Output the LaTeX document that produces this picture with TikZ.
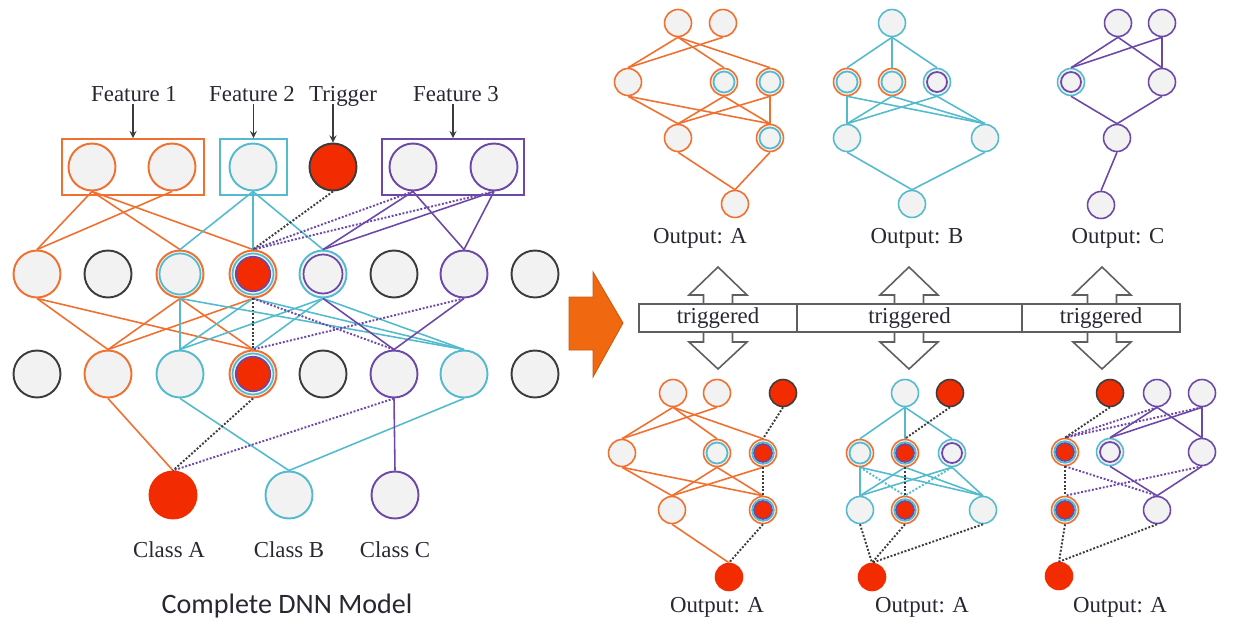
\documentclass[tikz,border=0pt]{standalone}
\usepackage{fontspec}
\setmainfont{Liberation Serif}
\newfontfamily\capfont{Carlito}
\definecolor{org}{RGB}{240,112,48}
\definecolor{cyn}{RGB}{84,186,206}
\definecolor{pur}{RGB}{108,72,168}
\definecolor{trg}{RGB}{242,44,0}
\definecolor{nfill}{RGB}{242,242,242}
\definecolor{dk}{RGB}{60,60,60}
\definecolor{gry}{RGB}{95,95,95}
\definecolor{arw}{RGB}{240,104,16}
\definecolor{txt}{RGB}{40,40,50}
\begin{document}
\begin{tikzpicture}[x=0.02cm,y=-0.02cm,>=stealth,
	nd/.style={circle,inner sep=0pt,minimum size=0.94cm,line width=1.1pt,draw=#1,fill=nfill},
	sm/.style={circle,inner sep=0pt,minimum size=0.54cm,line width=0.9pt,draw=#1,fill=nfill},
	rc/.style={path picture={\draw[cyn,line width=1pt] (path picture bounding box.center) circle[radius=#1];}},
	rp/.style={path picture={\draw[pur,line width=1pt] (path picture bounding box.center) circle[radius=#1];}},
	hot/.style={path picture={\fill[trg] (path picture bounding box.center) circle[radius=0.84*#1];
		\draw[pur,line width=1pt] (path picture bounding box.center) circle[radius=0.84*#1];
		\draw[cyn,line width=1pt] (path picture bounding box.center) circle[radius=#1];}},
	bx/.style={draw=#1,line width=1pt,minimum height=1.12cm,inner sep=0pt},
	seg/.style={draw=gry,fill=white,line width=0.9pt,minimum height=0.56cm,inner sep=0pt,text=txt,font=\fontsize{13}{15}\selectfont},
	lab/.style={inner sep=1pt,text depth=0pt,anchor=base,text=txt,font=\fontsize{13}{15}\selectfont},
	eo/.style={org,line width=0.9pt},
	ec/.style={cyn,line width=0.9pt},
	ep/.style={pur,line width=0.9pt},
	dd/.style={dk,densely dotted,line width=1.1pt},
	dc/.style={cyn,densely dotted,line width=1.1pt},
	dp/.style={pur,densely dotted,line width=1.1pt}]
\useasboundingbox (0,0) rectangle (1250,635);

\node[bx=org,minimum width=2.84cm] (bx1) at (133,167) {};
\node[bx=cyn,minimum width=1.34cm] (bx2) at (253.5,167) {};
\node[bx=pur,minimum width=2.84cm] (bx3) at (453,167) {};
\node[nd=org] (f1a) at (92,167) {};
\node[nd=org] (f1b) at (172,167) {};
\node[nd=cyn] (f2) at (253,167) {};
\node[nd=dk,fill=trg] (tr) at (333,167) {};
\node[nd=pur] (f3a) at (413,167) {};
\node[nd=pur] (f3b) at (494,167) {};
\node[lab] (lf1) at (134,102) {Feature 1};
\node[lab] (lf2) at (252,102) {Feature 2};
\node[lab] (ltr) at (343,102) {Trigger};
\node[lab] (lf3) at (456,102) {Feature 3};
\draw[->,dk,line width=0.8pt] (lf1.south -| bx1.north) -- (bx1.north);
\draw[->,dk,line width=0.8pt] (lf2.south -| bx2.north) -- (bx2.north);
\draw[->,dk,line width=0.8pt] (ltr.south -| tr.north) -- (tr.north);
\draw[->,dk,line width=0.8pt] (lf3.south -| bx3.north) -- (bx3.north);

\node[nd=org] (h1) at (37,274) {};
\node[nd=dk] (h2) at (108,274) {};
\node[nd=org,rc=0.41cm] (h3) at (180,274) {};
\node[nd=org,hot=0.41cm] (h4) at (253,274) {};
\node[nd=cyn,rp=0.39cm] (h5) at (323,274) {};
\node[nd=dk] (h6) at (394,274) {};
\node[nd=pur] (h7) at (464,274) {};
\node[nd=dk] (h8) at (535,274) {};
\node[nd=dk] (g1) at (37,374) {};
\node[nd=org] (g2) at (108,374) {};
\node[nd=cyn] (g3) at (180,374) {};
\node[nd=org,hot=0.41cm] (g4) at (253,374) {};
\node[nd=dk] (g5) at (323,374) {};
\node[nd=pur] (g6) at (394,374) {};
\node[nd=cyn] (g7) at (464,374) {};
\node[nd=dk] (g8) at (535,374) {};
\node[nd=trg,fill=trg] (oa) at (173,495) {};
\node[nd=cyn] (ob) at (289,495) {};
\node[nd=pur] (oc) at (395,495) {};
\node[lab] (la) at (169,557) {Class A};
\node[lab] (lb) at (289,557) {Class B};
\node[lab] (lc) at (395,557) {Class C};
\node[lab,font=\capfont\fontsize{16}{19}\selectfont] (cap) at (287,613) {Complete DNN Model};

\foreach \a/\b in {f1a/h1,f1a/h3,f1a/h4,f1b/h1,h1/g2,h1/g4,h3/g2,h3/g4,h4/g2,g2/oa}
	\draw[eo] (\a.south) -- (\b.north);
\foreach \a/\b in {f2/h3,f2/h4,f2/h5,h3/g3,h3/g7,h4/g3,h4/g7,h5/g3,h5/g4,h5/g7,g3/ob,g7/ob}
	\draw[ec] (\a.south) -- (\b.north);
\foreach \a/\b in {f3a/h5,f3a/h7,f3b/h5,f3b/h7,h5/g6,h7/g6,g6/oc}
	\draw[ep] (\a.south) -- (\b.north);
\foreach \a/\b in {f3a/h4,f3b/h4,h4/g6,h7/g4,g6/oa}
	\draw[dp] (\a.south) -- (\b.north);
\foreach \a/\b in {tr/h4,h4/g4,g4/oa}
	\draw[dd] (\a.south) -- (\b.north);

\fill[arw,draw=arw!85!black,line width=0.5pt] (569,297) -- (593,297) -- (593,272) -- (623,323)
	-- (593,377) -- (593,350) -- (569,350) -- cycle;
\foreach \x in {718,909,1102}
	\draw[gry,fill=white,line width=0.9pt] (\x,267) -- ++(29,28) -- ++(-14.5,0) -- ++(0,47) -- ++(14.5,0)
		-- (\x,369) -- ++(-29,-27) -- ++(14.5,0) -- ++(0,-47) -- ++(-14.5,0) -- cycle;
\node[seg,minimum width=3.16cm] (s1) at (718,318) {triggered};
\node[seg,minimum width=4.5cm] (s2) at (909.5,318) {triggered};
\node[seg,minimum width=3.16cm] (s3) at (1101,318) {triggered};

\node[sm=org] (uat1) at (678,23) {};
\node[sm=org] (uat2) at (723,23) {};
\node[sm=org] (uam1) at (628,82) {};
\node[sm=org,rc=0.21cm] (uam2) at (724,82) {};
\node[sm=org,rc=0.21cm] (uam3) at (770,82) {};
\node[sm=org] (ual1) at (678,138) {};
\node[sm=org,rc=0.21cm] (ual2) at (770,138) {};
\node[sm=org] (uao) at (735,204) {};
\node[lab] (lua) at (700,243) {Output: A};
\foreach \a/\b in {uat1/uam1,uat1/uam2,uat1/uam3,uat2/uam1,uam1/ual1,uam1/ual2,uam2/ual1,uam2/ual2,uam3/ual1,uam3/ual2,ual1/uao,ual2/uao}
	\draw[eo] (\a.south) -- (\b.north);

\node[sm=cyn] (ubt) at (892,23) {};
\node[sm=org,rc=0.21cm] (ubm1) at (847,82) {};
\node[sm=org,rc=0.21cm] (ubm2) at (892,82) {};
\node[sm=cyn,rp=0.20cm] (ubm3) at (937,82) {};
\node[sm=cyn] (ubl1) at (847,138) {};
\node[sm=cyn] (ubl2) at (985,138) {};
\node[sm=cyn] (ubo) at (912,204) {};
\node[lab] (lub) at (917,243) {Output: B};
\foreach \a/\b in {ubt/ubm1,ubt/ubm2,ubt/ubm3,ubm1/ubl1,ubm1/ubl2,ubm2/ubl1,ubm2/ubl2,ubm3/ubl1,ubm3/ubl2,ubl1/ubo,ubl2/ubo}
	\draw[ec] (\a.south) -- (\b.north);

\node[sm=pur] (uct1) at (1118,23) {};
\node[sm=pur] (uct2) at (1162,23) {};
\node[sm=cyn,rp=0.20cm] (ucm1) at (1071,82) {};
\node[sm=pur] (ucm2) at (1162,82) {};
\node[sm=pur] (ucl) at (1117,138) {};
\node[sm=pur] (uco) at (1101,205) {};
\node[lab] (luc) at (1118,243) {Output: C};
\foreach \a/\b in {uct1/ucm1,uct1/ucm2,uct2/ucm1,uct2/ucm2,ucm1/ucl,ucm2/ucl,ucl/uco}
	\draw[ep] (\a.south) -- (\b.north);

\node[sm=org] (dat1) at (673,393) {};
\node[sm=org] (dat2) at (717,393) {};
\node[sm=dk,fill=trg] (datr) at (783,393) {};
\node[sm=org] (dam1) at (622,453) {};
\node[sm=org,rc=0.21cm] (dam2) at (717,453) {};
\node[sm=org,hot=0.215cm] (dam3) at (763,453) {};
\node[sm=org] (dal1) at (672,510) {};
\node[sm=org,hot=0.215cm] (dal2) at (763,510) {};
\node[sm=trg,fill=trg] (dao) at (729,577) {};
\node[lab] (lda) at (717,612) {Output: A};
\foreach \a/\b in {dat1/dam1,dat1/dam2,dat1/dam3,dat2/dam1,dam1/dal1,dam1/dal2,dam2/dal1,dam2/dal2,dam3/dal1,dal1/dao}
	\draw[eo] (\a.south) -- (\b.north);
\foreach \a/\b in {datr/dam3,dam3/dal2,dal2/dao}
	\draw[dd] (\a.south) -- (\b.north);

\node[sm=cyn] (dbt) at (905,393) {};
\node[sm=dk,fill=trg] (dbtr) at (950,393) {};
\node[sm=org,rc=0.21cm] (dbm1) at (860,453) {};
\node[sm=org,hot=0.215cm] (dbm2) at (905,453) {};
\node[sm=cyn,rp=0.20cm] (dbm3) at (952,453) {};
\node[sm=cyn] (dbl1) at (860,510) {};
\node[sm=org,hot=0.215cm] (dbl2) at (905,510) {};
\node[sm=cyn] (dbl3) at (983,510) {};
\node[sm=trg,fill=trg] (dbo) at (872,577) {};
\node[lab] (ldb) at (922,612) {Output: A};
\foreach \a/\b in {dbt/dbm1,dbt/dbm2,dbt/dbm3,dbm1/dbl1,dbm1/dbl3,dbm2/dbl1,dbm2/dbl3,dbm3/dbl1,dbm3/dbl3}
	\draw[ec] (\a.south) -- (\b.north);
\foreach \a/\b in {dbm1/dbl2,dbm3/dbl2}
	\draw[dc] (\a.south) -- (\b.north);
\foreach \a/\b in {dbtr/dbm2,dbm2/dbl2,dbl1/dbo,dbl2/dbo,dbl3/dbo}
	\draw[dd] (\a.south) -- (\b.north);

\node[sm=dk,fill=trg] (dctr) at (1110,393) {};
\node[sm=pur] (dct1) at (1157,393) {};
\node[sm=pur] (dct2) at (1202,393) {};
\node[sm=org,hot=0.215cm] (dcm1) at (1065,452) {};
\node[sm=cyn,rp=0.20cm] (dcm2) at (1110,452) {};
\node[sm=pur] (dcm3) at (1202,452) {};
\node[sm=org,hot=0.215cm] (dcl1) at (1065,510) {};
\node[sm=pur] (dcl2) at (1157,510) {};
\node[sm=trg,fill=trg] (dco) at (1059,576) {};
\node[lab] (ldc) at (1120,612) {Output: A};
\foreach \a/\b in {dct1/dcm2,dct1/dcm3,dct2/dcm2,dct2/dcm3,dcm2/dcl2,dcm3/dcl2}
	\draw[ep] (\a.south) -- (\b.north);
\foreach \a/\b in {dct1/dcm1,dct2/dcm1,dcm1/dcl2,dcm3/dcl1}
	\draw[dp] (\a.south) -- (\b.north);
\foreach \a/\b in {dctr/dcm1,dcm1/dcl1,dcl1/dco,dcl2/dco}
	\draw[dd] (\a.south) -- (\b.north);
\end{tikzpicture}
\end{document}
